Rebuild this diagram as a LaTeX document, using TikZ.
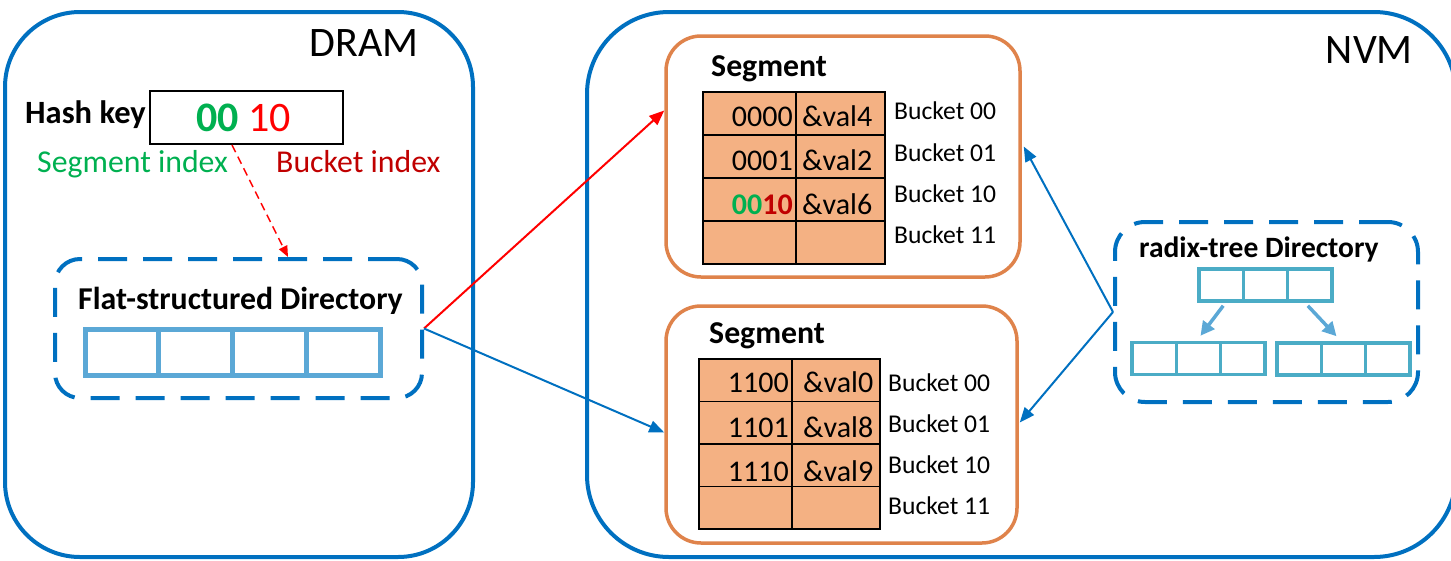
\documentclass[tikz,border=0pt]{standalone}
\usepackage{fontspec}
\setmainfont{Carlito}
\usetikzlibrary{arrows.meta,calc}

\definecolor{memblue}{RGB}{0,112,192}
\definecolor{slotblue}{RGB}{91,168,214}
\definecolor{treeteal}{RGB}{75,172,198}
\definecolor{segorange}{RGB}{223,131,75}
\definecolor{peach}{RGB}{244,177,131}
\definecolor{kgreen}{RGB}{0,176,80}
\definecolor{kred}{RGB}{255,0,0}
\definecolor{kdarkred}{RGB}{192,0,0}

\tikzset{
  region/.style={draw=memblue, line width=4pt, inner sep=0pt, rounded corners=#1},
  dirbox/.style={draw=memblue, line width=4pt, inner sep=0pt, rounded corners=#1,
                 dash pattern=on 29pt off 16pt},
  segbox/.style={draw=segorange, line width=3.5pt, inner sep=0pt, rounded corners=35pt},
  tcell/.style={draw=black, line width=1.8pt, fill=peach, inner sep=0pt, anchor=north west},
  slot/.style={draw=slotblue, line width=5pt, inner sep=0pt,
               minimum width=73.75pt, minimum height=46pt},
  tslot/.style={draw=treeteal, line width=3.5pt, inner sep=0pt,
                minimum width=44.3pt, minimum height=32pt},
  link/.style={draw=memblue, line width=2pt, -{Triangle[length=15pt,width=12pt]}},
  hotlink/.style={draw=kred, line width=2pt, -{Triangle[length=15pt,width=12pt]}},
  treelink/.style={draw=slotblue, line width=3.5pt, -{Triangle[length=14pt,width=14pt]}},
  big/.style={font=\fontsize{42}{48}\selectfont, inner sep=0pt},
  label/.style={font=\fontsize{31.8}{36}\selectfont, inner sep=0pt},
  blabel/.style={font=\fontsize{31.8}{36}\selectfont\bfseries, inner sep=0pt},
  celltext/.style={font=\fontsize{30}{35}\selectfont, inner sep=0pt},
  bucket/.style={font=\fontsize{25.6}{30}\selectfont, inner sep=0pt, anchor=base west},
}

\begin{document}
\begin{tikzpicture}[x=1pt,y=-1pt]
\useasboundingbox (0,0) rectangle (1451,560);

% memory regions
\node[region=75pt, minimum width=468pt, minimum height=545pt] (dram) at (239,284.5) {};
\node[region=82pt, minimum width=869pt, minimum height=545pt] (nvm) at (1021.5,284.5) {};
\node[big, anchor=base east] (dramlbl) at (419,56) {DRAM};
\node[big, anchor=base east] (nvmlbl) at (1413,63) {NVM};

% hash key
\node[blabel, font=\fontsize{32.5}{37}\selectfont\bfseries, anchor=base west] (hklbl) at (25,123) {Hash key};
\node[draw=black, line width=2pt, minimum width=193pt, minimum height=53pt, inner sep=0pt]
  (hash) at (246.5,117.5) {};
\node[font=\fontsize{42}{48}\selectfont, inner sep=0pt, anchor=base west] (hashbits) at (196,131)
  {{\bfseries\color{kgreen}00} {\color{kred}10}};
\node[label, text=kgreen, anchor=base west] (segidx) at (37,172) {Segment index};
\node[label, text=kdarkred, anchor=base west] (bktidx) at (276,172) {Bucket index};

% flat-structured directory
\node[dirbox=25pt, minimum width=367pt, minimum height=139pt] (flat) at (238.5,328.5) {};
\node[blabel, anchor=base west] (flatlbl) at (78,309) {Flat-structured Directory};
\foreach \i in {0,...,3}
  \node[slot] (f\i) at ({121.9+73.75*\i},352) {};

% segment 1
\node[segbox, minimum width=354pt, minimum height=241pt] (seg1) at (843,156.5) {};
\node[blabel, anchor=base west] (seg1lbl) at (711,76) {Segment};
\foreach \r in {0,...,3} {
  \node[tcell, minimum width=93pt, minimum height=43pt] (s1k\r) at (702,{91+43*\r}) {};
  \node[tcell, minimum width=89pt, minimum height=43pt] (s1v\r) at (795,{91+43*\r}) {};
}
\node[celltext, anchor=base east] (k10) at (793,126) {0000};
\node[celltext, anchor=base east] (k11) at (793,170) {0001};
\node[celltext, anchor=base east] (k12) at (793,214)
  {{\bfseries\color{kgreen}00}{\bfseries\color{kdarkred}10}};
\node[celltext, anchor=base west] (v10) at (802,126) {\&val4};
\node[celltext, anchor=base west] (v11) at (802,170) {\&val2};
\node[celltext, anchor=base west] (v12) at (802,214) {\&val6};
\node[bucket] (b10) at (894,119) {Bucket 00};
\node[bucket] (b11) at (894,161) {Bucket 01};
\node[bucket] (b12) at (894,202) {Bucket 10};
\node[bucket] (b13) at (894,243) {Bucket 11};

% segment 2
\node[segbox, minimum width=351pt, minimum height=237pt] (seg2) at (841.5,424.5) {};
\node[blabel, anchor=base west] (seg2lbl) at (709,343) {Segment};
\foreach \r in {0,...,3} {
  \node[tcell, minimum width=93pt, minimum height=42.5pt] (s2k\r) at (698,{358+42.5*\r}) {};
  \node[tcell, minimum width=88pt, minimum height=42.5pt] (s2v\r) at (791,{358+42.5*\r}) {};
}
\node[celltext, anchor=base east] (k20) at (789,392) {1100};
\node[celltext, anchor=base east] (k21) at (789,437) {1101};
\node[celltext, anchor=base east] (k22) at (789,481) {1110};
\node[celltext, anchor=base west] (v20) at (803,392) {\&val0};
\node[celltext, anchor=base west] (v21) at (803,437) {\&val8};
\node[celltext, anchor=base west] (v22) at (803,481) {\&val9};
\node[bucket] (b20) at (888,391) {Bucket 00};
\node[bucket] (b21) at (888,432) {Bucket 01};
\node[bucket] (b22) at (888,473) {Bucket 10};
\node[bucket] (b23) at (888,514) {Bucket 11};

% radix-tree directory
\node[dirbox=30pt, minimum width=303pt, minimum height=180pt] (radix) at (1266.5,312) {};
\node[blabel, font=\fontsize{29.5}{34}\selectfont\bfseries, anchor=base west] (radixlbl) at (1139,257)
  {radix-tree Directory};
\foreach \i in {0,1,2} {
  \node[tslot] (t\i) at ({1221.2+44.3*\i},285) {};
  \node[tslot] (l\i) at ({1154.2+44.3*\i},358.5) {};
  \node[tslot] (r\i) at ({1299.2+44.3*\i},359) {};
}
\draw[treelink] ([xshift=2pt,yshift=-3pt]t0.south) -- ([xshift=2pt,yshift=5pt]l1.north);
\draw[treelink] ([xshift=-2pt,yshift=-3pt]t2.south) -- ([xshift=-7pt,yshift=5pt]r1.north);

% connectors
\draw[draw=kred, line width=1.5pt, dash pattern=on 8pt off 5pt,
      -{Triangle[length=11pt,width=9pt]}]
  ([xshift=-14.5pt]hash.south) -- ([xshift=49.5pt]flat.north);
\draw[hotlink] (flat.east) -- ([yshift=46pt]seg1.west);
\draw[link] (flat.east) -- ([yshift=-8pt]seg2.west);
\draw[link] (radix.west) -- ([xshift=2pt,yshift=10pt]seg1.east);
\draw[link] (radix.west) -- ([xshift=1pt,yshift=2pt]seg2.east);
\end{tikzpicture}
\end{document}
